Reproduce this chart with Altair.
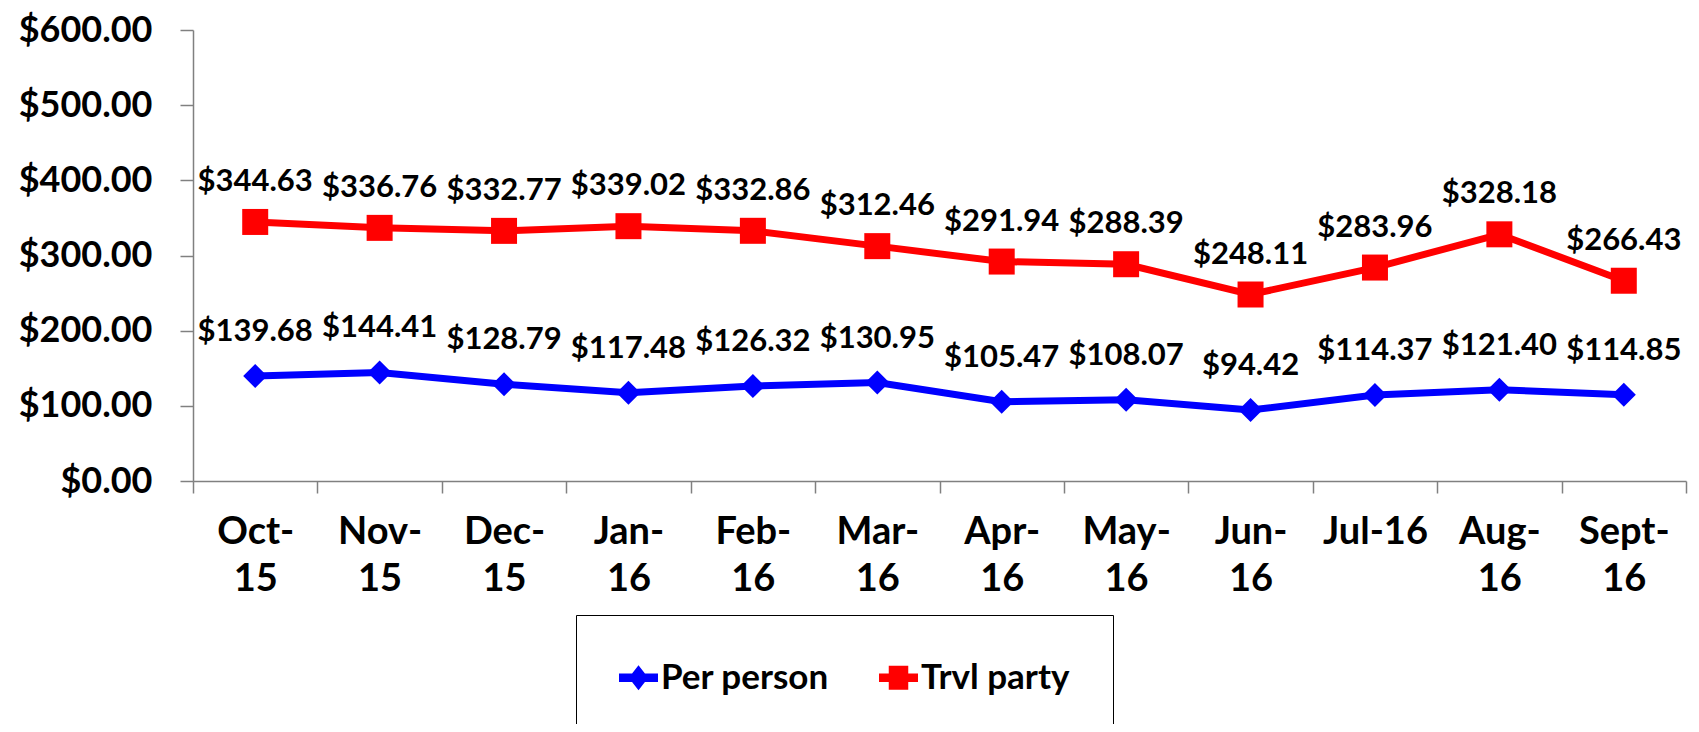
import altair as alt
import pandas as pd

months = ["Oct-|15", "Nov-|15", "Dec-|15", "Jan-|16", "Feb-|16", "Mar-|16",
          "Apr-|16", "May-|16", "Jun-|16", "Jul-16", "Aug-|16", "Sept-|16"]
per_person = [139.68, 144.41, 128.79, 117.48, 126.32, 130.95,
              105.47, 108.07, 94.42, 114.37, 121.40, 114.85]
trvl_party = [344.63, 336.76, 332.77, 339.02, 332.86, 312.46,
              291.94, 288.39, 248.11, 283.96, 328.18, 266.43]
series_names = ["Per person", "Trvl party"]
y_ticks = [0, 100, 200, 300, 400, 500, 600]

FONT = "Lato"
BLUE = "#0000FF"
RED = "#FF0000"

df_pp = pd.DataFrame({"month": months, "value": per_person, "series": series_names[0]})
df_tp = pd.DataFrame({"month": months, "value": trvl_party, "series": series_names[1]})
df_all = pd.concat([df_pp, df_tp], ignore_index=True)

x_enc = alt.X(
    "month:N", sort=months,
    scale=alt.Scale(type="band", paddingInner=0, paddingOuter=0),
    axis=alt.Axis(
        title=None, labelAngle=0, labelFont=FONT, labelFontSize=38, labelFontWeight="bold",
        labelColor="black", labelExpr="split(datum.label, '|')", labelLineHeight=47,
        labelBaseline="top", labelPadding=20, tickBand="extent", tickSize=12,
        tickColor="#808080", tickWidth=1.5, domainColor="#808080", domainWidth=1.5,
        grid=False, labelLimit=200,
    ),
)
y_enc = alt.Y(
    "value:Q",
    scale=alt.Scale(domain=[0, 600], nice=False, zero=True),
    axis=alt.Axis(
        title=None, values=y_ticks, format="$,.2f", labelFont=FONT, labelFontSize=36,
        labelFontWeight="bold", labelColor="black", labelPadding=28, tickSize=13,
        tickColor="#808080", tickWidth=1.5, domainColor="#808080", domainWidth=1.5,
        grid=False, labelLimit=300,
    ),
)


def series_layers(df, color, shape, size, dy):
    base = alt.Chart(df).encode(x=x_enc, y=y_enc)
    line = base.mark_line(color=color, strokeWidth=7)
    pts = base.mark_point(filled=True, shape=shape, size=size, color=color, opacity=1)
    txt = base.mark_text(
        dy=dy, font=FONT, fontSize=31, fontWeight="bold", color="black", baseline="middle"
    ).encode(text=alt.Text("value:Q", format="$,.2f"))
    return [line, pts, txt]


diamond_path = ("M-1,-0.22 L-0.33,-0.22 L0,-0.64 L0.33,-0.22 L1,-0.22 L1,0.22 "
                "L0.33,0.22 L0,0.64 L-0.33,0.22 L-1,0.22 Z")
square_path = ("M-1,-0.22 L-0.5,-0.22 L-0.5,-0.62 L0.5,-0.62 L0.5,-0.22 L1,-0.22 "
               "L1,0.22 L0.5,0.22 L0.5,0.62 L-0.5,0.62 L-0.5,0.22 L-1,0.22 Z")

legend_props = dict(
    title=None, orient="none", legendX=383, legendY=585, direction="horizontal",
    strokeColor="black", padding=43, labelFont=FONT, labelFontSize=35,
    labelFontWeight="bold", labelColor="black", symbolSize=1521, symbolStrokeWidth=0,
    symbolOpacity=1, labelOffset=3, columnPadding=50, labelLimit=400,
)

legend_layer = alt.Chart(df_all).mark_point(filled=True, opacity=0, size=1).encode(
    x=x_enc, y=y_enc,
    color=alt.Color("series:N", scale=alt.Scale(domain=series_names, range=[BLUE, RED]),
                    legend=alt.Legend(**legend_props)),
    shape=alt.Shape("series:N", scale=alt.Scale(domain=series_names,
                                                 range=[diamond_path, square_path]),
                    legend=alt.Legend(**legend_props)),
)

layers = (series_layers(df_pp, BLUE, "diamond", 576, -44)
          + series_layers(df_tp, RED, "square", 676, -40)
          + [legend_layer])

chart = alt.layer(*layers).properties(
    width=1493, height=451,
    autosize=alt.AutoSizeParams(type="none"),
    padding={"left": 185, "top": 22, "right": 5, "bottom": 243},
    background="white",
).configure_view(stroke=None)

chart.save("out.html", embed_options={"renderer": "svg", "actions": False})
